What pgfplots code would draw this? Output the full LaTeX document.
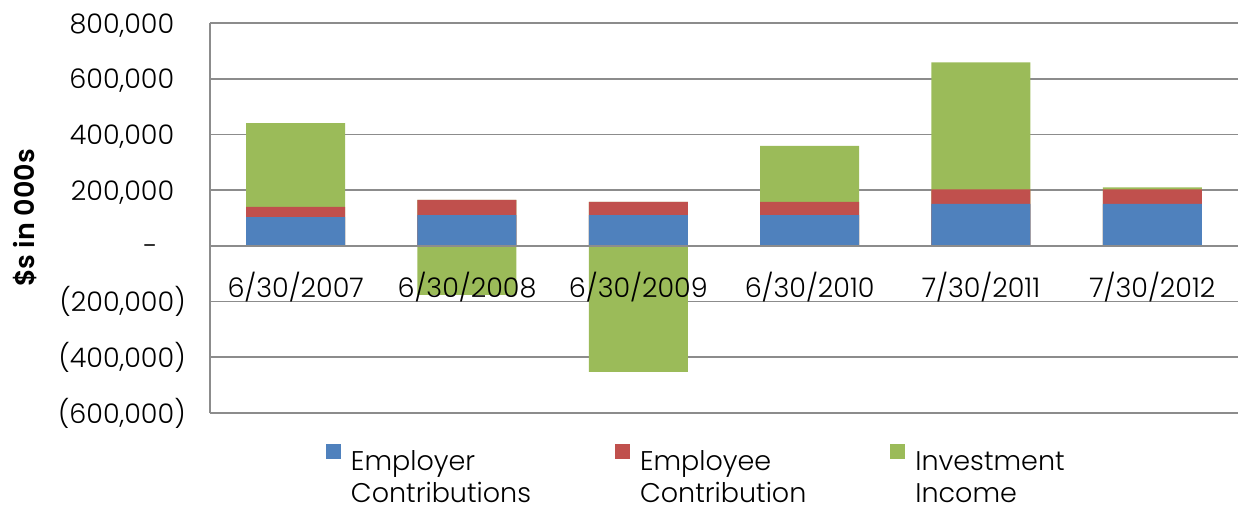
\documentclass[border=0pt]{standalone}
\usepackage{fontspec}
\setmainfont{Poppins Light}[BoldFont=Poppins SemiBold]
\usepackage{pgfplots}
\pgfplotsset{compat=1.18}
\usepackage{pgfplotstable}
\definecolor{cblue}{HTML}{4F81BD}
\definecolor{cred}{HTML}{C0504D}
\definecolor{cgreen}{HTML}{9BBB59}
\definecolor{cgrid}{HTML}{8C8C8C}

\pgfplotstableread{
idx blue red green
0 103000 37000 301000
1 110000 55000 -176000
2 110000 48000 -452000
3 110000 48000 201000
4 151000 52000 456000
5 151000 52000 7000
}\data

\pgfplotsset{
  sq/.style={legend image code/.code={\fill[##1] (0pt,1.5pt) rectangle (7.5pt,9pt);}},
  base/.style={
    at={(0,0)}, anchor=south west,
    scale only axis, width=514pt, height=195pt,
    xmin=-0.5, xmax=5.5, ymin=-600000, ymax=800000,
    axis line style={draw=cgrid, line width=0.9pt},
    major tick length=0pt,
    tick label style={font=\fontsize{13.5}{15}\selectfont},
    xtick={0,1,2,3,4,5},
  },
}

\begin{document}
\begin{tikzpicture}
\useasboundingbox (-105pt,-46pt) rectangle (514pt,206.5pt);
\begin{axis}[
  base,
  axis x line=none, axis y line=left,
  x axis line style={-}, y axis line style={-},
  ymajorgrids, grid style={draw=cgrid, line width=0.9pt},
  xticklabel={},
  ytick={-600000,-400000,-200000,0,200000,400000,600000,800000},
  yticklabels={{(600,000)},{(400,000)},{(200,000)},{-\phantom{0)}},{200,000\phantom{)}},{400,000\phantom{)}},{600,000\phantom{)}},{800,000\phantom{)}}},
  scaled y ticks=false,
  yticklabel style={anchor=east, inner sep=0pt, xshift=-12pt},
  hide obscured y ticks=false,
  ylabel={\bfseries \$s in 000s},
  ylabel style={at={(axis description cs:-0.18,0.5)}, anchor=center, font=\fontsize{13.5}{15}\selectfont},
  legend columns=3,
  legend cell align=left,
  legend style={at={(axis description cs:0.1128,-0.080)}, anchor=north west,
    draw=none, fill=none, inner sep=0pt, outer sep=0pt,
    font=\fontsize{13.5}{16}\selectfont,
    nodes={inner sep=0pt},
    /tikz/every odd column/.append style={column sep=5pt},
    /tikz/every even column/.append style={column sep=42pt}},
]
\addlegendimage{sq, fill=cblue, draw=none}
\addlegendentry{\vtop{\hbox{Employer}\hbox{Contributions}\vskip-4pt}}
\addlegendimage{sq, fill=cred, draw=none}
\addlegendentry{\vtop{\hbox{Employee}\hbox{Contribution}\vskip-4pt}}
\addlegendimage{sq, fill=cgreen, draw=none}
\addlegendentry{\vtop{\hbox{Investment}\hbox{Income}\vskip-4pt}}

\addplot[ybar, bar width=49.5pt, bar shift=0pt, fill=cgreen, draw=none, forget plot]
  table[x=idx, y expr={\thisrow{blue}+\thisrow{red}+max(\thisrow{green},0)}] {\data};
\addplot[ybar, bar width=49.5pt, bar shift=0pt, fill=cred, draw=none, forget plot]
  table[x=idx, y expr={\thisrow{blue}+\thisrow{red}}] {\data};
\addplot[ybar, bar width=49.5pt, bar shift=0pt, fill=cblue, draw=none, forget plot]
  table[x=idx, y=blue] {\data};
\addplot[ybar, bar width=49.5pt, bar shift=0pt, fill=cgreen, draw=none, forget plot]
  table[x=idx, y expr={min(\thisrow{green},0)}] {\data};
\end{axis}
\begin{axis}[
  base,
  axis x line=middle, axis y line=none,
  x axis line style={-}, y axis line style={-},
  ytick=\empty,
  hide obscured x ticks=false,
  xticklabels={6/30/2007,6/30/2008,6/30/2009,6/30/2010,7/30/2011,7/30/2012},
  xticklabel style={anchor=north, inner sep=0pt, yshift=-13pt},
]
\end{axis}
\end{tikzpicture}
\end{document}
